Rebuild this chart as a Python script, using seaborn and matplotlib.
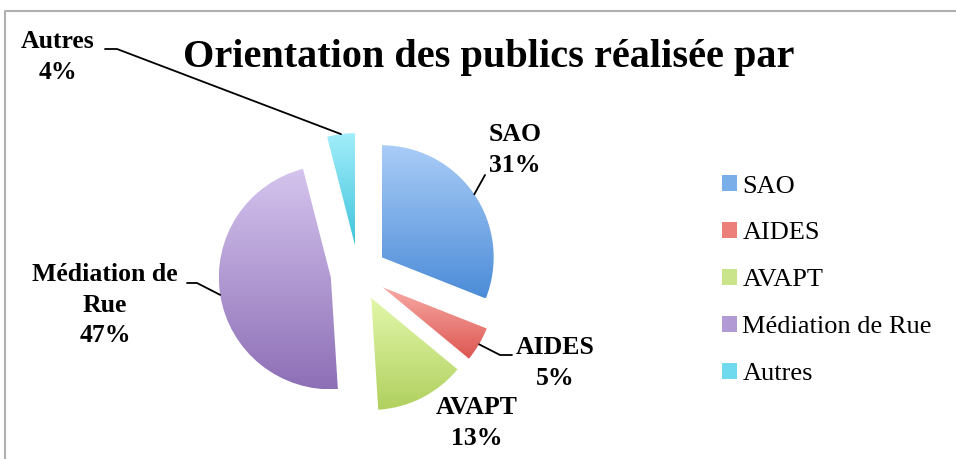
import numpy as np
import matplotlib
matplotlib.use("Agg")
import matplotlib.pyplot as plt
from matplotlib.colors import to_rgb
from matplotlib.patches import Patch
import seaborn as sns

# ---- data ----
categories = ["SAO", "AIDES", "AVAPT", "Médiation de Rue", "Autres"]
values = [31, 5, 13, 47, 4]
label_names = ["SAO", "AIDES", "AVAPT", "Médiation de\nRue", "Autres"]
title = "Orientation des publics réalisée par"

# gradient colours (top, bottom) per slice
top_colors = ["#aacdf7", "#f7aaa6", "#e2f7aa", "#d5c4ee", "#a3eefa"]
bottom_colors = ["#4c8cd8", "#dd5650", "#b0d05e", "#8d6fb6", "#3fc4dc"]
legend_colors = ["#7aaee9", "#ec7f79", "#c9e48a", "#b29bd4", "#6fdaed"]

sns.set_theme(style="white")
plt.rcParams['font.family'] = ['Liberation Serif', 'DejaVu Serif']

W, H = 956, 459
fig = plt.figure(figsize=(W / 100, H / 100), dpi=100)
ax = fig.add_axes([0, 0, 1, 1])

def P(x, y):
    """pixel coords (y down) -> axes data coords (y up)"""
    return x, H - y

cx, cy = P(358.5, 273)
R = 112
EXP = 28
wedges, _ = ax.pie(values, startangle=90, counterclock=False, radius=R,
                   center=(cx, cy), explode=[EXP] * len(values),
                   wedgeprops=dict(linewidth=0), frame=True)
ax.set_xlim(0, W)
ax.set_ylim(0, H)
ax.set_aspect('auto')
ax.axis('off')

for w, tc, bc in zip(wedges, top_colors, bottom_colors):
    w.set_facecolor('none')
    ext = w.get_path().get_extents()
    t = np.linspace(0, 1, 256)[:, None]
    grad = (1 - t) * np.array(to_rgb(tc)) + t * np.array(to_rgb(bc))
    grad = grad[:, None, :]
    im = ax.imshow(grad, extent=(ext.x0, ext.x1, ext.y0, ext.y1),
                   aspect='auto', interpolation='bilinear', zorder=1)
    im.set_clip_path(w)

ax.set_xlim(0, W)
ax.set_ylim(0, H)

# arc midpoints for leader lines
mids = []
for w in wedges:
    th = np.deg2rad((w.theta1 + w.theta2) / 2)
    wx, wy = w.center
    mids.append((wx + R * np.cos(th), wy + R * np.sin(th)))

total = sum(values)
label_pos = [P(515, 150), P(555, 363), P(477, 423), P(105, 305), P(58, 57)]
for name, v, pos in zip(label_names, values, label_pos):
    ax.text(pos[0], pos[1], f"{name}\n{round(100 * v / total)}%",
            ha='center', va='center', fontsize=18.5, fontweight='bold',
            linespacing=1.4, color='black', zorder=5)

# leader lines (elbow points are layout positions)
elbows = {
    0: [P(485, 175)],
    1: [P(512, 355), P(500, 355)],
    3: [P(187, 283), P(197, 283)],
    4: [P(105, 49), P(117, 49)],
}
for i, pts in elbows.items():
    xs = [p[0] for p in pts] + [mids[i][0]]
    ys = [p[1] for p in pts] + [mids[i][1]]
    ax.plot(xs, ys, color='black', lw=1.3, zorder=4)

# title
ax.text(*P(489, 57), title, ha='center', va='center', fontsize=29,
        fontweight='bold', color='black')

# border (top & left)
ax.plot([5, 5, W], [0, H - 11, H - 11], color='#b0b0b0', lw=1.5, zorder=0)

handles = [Patch(facecolor=c, edgecolor='none') for c in legend_colors]
ax.legend(handles, categories, loc='upper left',
          bbox_to_anchor=P(709, 162), bbox_transform=ax.transData,
          frameon=False, fontsize=19, handlelength=0.56, handleheight=0.56,
          handletextpad=0.2, labelspacing=0.93, borderpad=0,
          labelcolor='black')

fig.savefig("out.png", dpi=100)
